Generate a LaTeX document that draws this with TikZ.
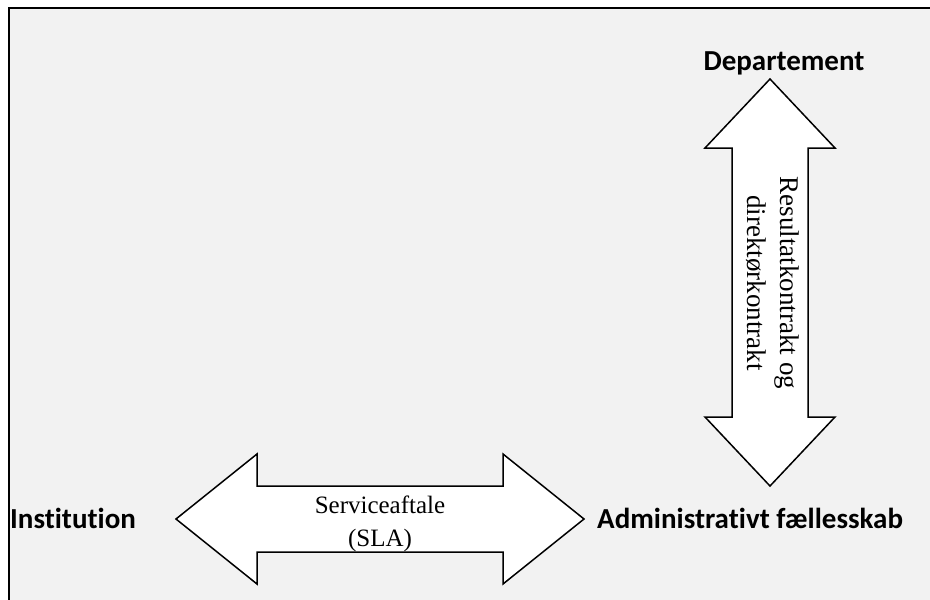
\documentclass[tikz,border=0pt]{standalone}
\usepackage{fontspec}
\setmainfont{Liberation Serif}
\newfontfamily\headfont[Ligatures=NoCommon]{Carlito}
\usetikzlibrary{calc}
\definecolor{panelgrey}{HTML}{F2F2F2}
\tikzset{
  party/.style={font=\headfont\bfseries\fontsize{29}{34}\selectfont, inner sep=0pt},
  bigarrow/.style={draw=black, fill=white, line width=1.5pt, line join=miter},
  deal/.style={font=\fontsize{25}{33}\selectfont, align=center, inner sep=0pt}
}
\begin{document}
\begin{tikzpicture}[x=1pt,y=-1pt]
\useasboundingbox (0,0) rectangle (930,600);
\begin{scope}
\clip (0,0) rectangle (930,600);
\draw [fill=panelgrey, line width=2.5pt] (9,8) rectangle (945,620);
\end{scope}
% parties
\node (inst) [party, anchor=base west] at (10,528) {Institution};
\node (adm) [party, anchor=base west] at (597,528) {Administrativt fællesskab};
\node (dep) [party, anchor=base] at (784,70) {Departement};
% arrow ends
\coordinate (sla-l) at (176,519);
\coordinate (sla-r) at (584,519);
\coordinate (res-t) at (770,79);
\coordinate (res-b) at (770,486);
\draw [bigarrow] (sla-l) -- ++(81,-65) -- ++(0,32) -- ($(sla-r)+(-81,-33)$)
        -- ++(0,-32) -- (sla-r) -- ++(-81,65) -- ++(0,-32)
        -- ($(sla-l)+(81,33)$) -- ++(0,32) -- cycle;
\draw [bigarrow] (res-t) -- ++(65,69) -- ++(-27,0) -- ($(res-b)+(38,-69)$)
        -- ++(27,0) -- (res-b) -- ++(-65,-69) -- ++(27,0)
        -- ($(res-t)+(-38,69)$) -- ++(-27,0) -- cycle;
% agreements
\node (sla) [deal] at ($(sla-l)!0.5!(sla-r)+(0,5)$) {Serviceaftale\\(SLA)};
\node (res) [deal, rotate=-90, font=\fontsize{27}{33}\selectfont] at (773,283)
        {Resultatkontrakt og\\direktørkontrakt};
\end{tikzpicture}
\end{document}
